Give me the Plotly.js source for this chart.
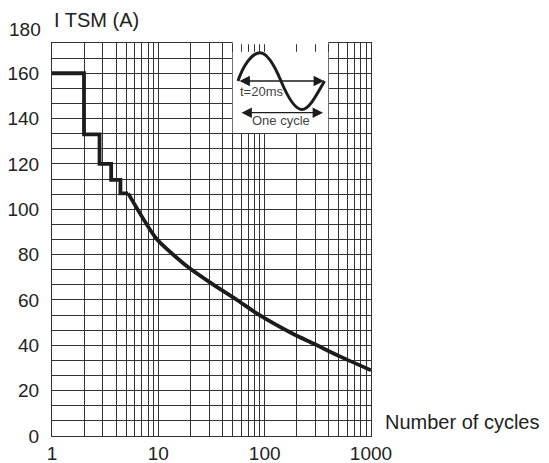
<!DOCTYPE html>
<html>
<head>
<meta charset="utf-8">
<script src="https://cdn.plot.ly/plotly-3.0.1.min.js"></script>
<style>html,body{margin:0;padding:0;background:#fff;}#chart{width:549px;height:463px;}</style>
</head>
<body>
<div id="chart"></div>
<script>
// ---- data ----
const cycles = [1, 2, 2, 2.8, 2.8, 3.6, 3.6, 4.4, 4.4, 5.2, 9.6, 19, 30, 55, 85, 186, 290, 515, 1000];
const itsm   = [160, 160, 133, 133, 120, 120, 113, 113, 107, 107, 87, 74.5, 68, 60, 54, 45, 40.7, 35, 29];
const stepCount = 10; // first points form the stepped part, the rest the smooth decay
const xTickLabels = ['1', '10', '100', '1000'];
const yTickLabels = ['0', '20', '40', '60', '80', '100', '120', '140', '160', '180'];
const yTitle = 'I TSM (A)';
const xTitle = 'Number of cycles';
const insetPeriod = 't=20ms';
const insetCycle = 'One cycle';

// ---- axis grid (log minor lines, 3 lines per 20 units) ----
const xVals = [], xText = [];
for (let d = 0; d < 3; d++) {
  for (let m = 1; m <= 9; m++) {
    xVals.push(m * Math.pow(10, d));
    xText.push(m === 1 ? xTickLabels[d] : '');
  }
}
xVals.push(1000); xText.push(xTickLabels[3]);
const yVals = [], yText = [];
for (let k = 0; k <= 26; k++) {
  yVals.push(k * 20 / 3);
  yText.push(k % 3 === 0 ? yTickLabels[k / 3] : '');
}

// ---- layout geometry (pixels) ----
const L = 52, R = 178, T = 43, B = 27;
const W = 549 - L - R, H = 463 - T - B;
const px = v => (v - L) / W;
const py = v => (463 - B - v) / H;
const P = (x, y) => px(x).toFixed(5) + ',' + py(y).toFixed(5);

const FONT = 'Liberation Sans, Arial, sans-serif';
const ink = '#1c1c1c';
const grid = '#333333';
const FS = 19;

const traces = [
  {x: cycles.slice(0, stepCount), y: itsm.slice(0, stepCount), type: 'scatter', mode: 'lines',
   line: {color: ink, width: 3.8}, hoverinfo: 'skip'},
  {x: cycles.slice(stepCount - 1), y: itsm.slice(stepCount - 1), type: 'scatter', mode: 'lines',
   line: {color: ink, width: 3.8, shape: 'spline', smoothing: 0.6}, hoverinfo: 'skip'}
];

const shapes = [
  // inset white panel
  {type: 'rect', xref: 'paper', yref: 'paper', x0: px(232.7), x1: px(328.3), y0: py(133), y1: py(51.7),
   fillcolor: '#ffffff', line: {width: 0}, layer: 'above'},
  {type: 'rect', xref: 'paper', yref: 'paper', x0: px(232.7), x1: px(328.3), y0: py(44.3), y1: py(41),
   fillcolor: '#ffffff', line: {width: 0}, layer: 'above'},
  // sine wave
  {type: 'path', xref: 'paper', yref: 'paper', layer: 'above',
   path: 'M' + P(238, 81) + ' C' + P(243, 66) + ' ' + P(252, 52.7) + ' ' + P(260, 52.7) +
         ' C' + P(268, 52.7) + ' ' + P(276, 69) + ' ' + P(281, 81) +
         ' C' + P(286, 93) + ' ' + P(294, 109.5) + ' ' + P(302, 109.5) +
         ' C' + P(309, 109.5) + ' ' + P(316, 96) + ' ' + P(324.5, 81),
   line: {color: ink, width: 3}}
];

const annFont = {family: FONT, size: FS, color: '#222'};
const annotations = [
  {xref: 'paper', yref: 'paper', x: px(51.5), y: py(20), xanchor: 'left', yanchor: 'middle',
   text: yTitle, showarrow: false, font: {family: FONT, size: 20, color: '#222'}},
  {xref: 'paper', yref: 'paper', x: px(42.5), y: py(29), xanchor: 'right', yanchor: 'middle',
   text: yTickLabels[9], showarrow: false, font: annFont},
  {xref: 'paper', yref: 'paper', x: px(383), y: py(422), xanchor: 'left', yanchor: 'middle',
   text: xTitle, showarrow: false, font: {family: FONT, size: 20, color: '#222'}},
  // inset arrows
  {xref: 'paper', yref: 'paper', x: px(324), y: py(81), ax: -86, ay: 0, text: '', showarrow: true,
   arrowside: 'end+start', arrowhead: 2, arrowsize: 1.6, arrowwidth: 1.3, arrowcolor: ink},
  {xref: 'paper', yref: 'paper', x: px(323), y: py(112.7), ax: -83, ay: 0, text: '', showarrow: true,
   arrowside: 'end+start', arrowhead: 2, arrowsize: 1.6, arrowwidth: 1.3, arrowcolor: ink},
  {xref: 'paper', yref: 'paper', x: px(237.5), y: py(92), xanchor: 'left', yanchor: 'middle',
   text: insetPeriod, showarrow: false, font: {family: FONT, size: 13, color: '#444'}},
  {xref: 'paper', yref: 'paper', x: px(281), y: py(120.5), xanchor: 'center', yanchor: 'middle',
   text: insetCycle, showarrow: false, font: {family: FONT, size: 13, color: '#444'}}
];

const layout = {
  width: 549, height: 463,
  margin: {l: L, r: R, t: T, b: B, pad: 0},
  paper_bgcolor: '#ffffff', plot_bgcolor: '#ffffff',
  showlegend: false,
  font: {family: FONT, size: FS, color: '#222'},
  xaxis: {
    type: 'log', range: [0, 3], tickmode: 'array', tickvals: xVals, ticktext: xText,
    showgrid: true, gridcolor: grid, gridwidth: 1, zeroline: false,
    showline: true, linecolor: grid, linewidth: 1, mirror: true,
    ticks: '', ticklabelstandoff: 0, tickfont: {family: FONT, size: FS, color: '#222'},
    fixedrange: true
  },
  yaxis: {
    range: [0, 173.3334], tickmode: 'array', tickvals: yVals, ticktext: yText,
    showgrid: true, gridcolor: grid, gridwidth: 1, zeroline: false,
    showline: true, linecolor: grid, linewidth: 1, mirror: true,
    ticks: '', ticklabelstandoff: 8, tickfont: {family: FONT, size: FS, color: '#222'},
    fixedrange: true
  },
  shapes: shapes,
  annotations: annotations
};

Plotly.newPlot('chart', traces, layout, {displayModeBar: false, staticPlot: true});
</script>
</body>
</html>
